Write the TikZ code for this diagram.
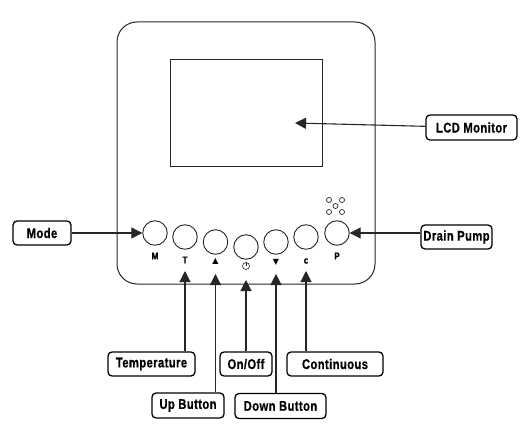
\documentclass[tikz,border=0pt]{standalone}
\usepackage{fontspec}
\newfontfamily\calloutfont{Liberation Sans Bold}[FakeStretch=0.8,FakeBold=0.6,LetterSpace=3]
\newfontfamily\symbolfont{DejaVu Sans}
\usetikzlibrary{arrows.meta, positioning}

\tikzset{
  panelline/.style={draw=black!85, line width=1pt},
  btn/.style={circle, draw=black!85, line width=0.9pt, minimum size=24.5pt, inner sep=0pt},
  vent/.style={circle, draw=black!85, line width=0.7pt, minimum size=5pt, inner sep=0pt},
  tag/.style={inner sep=0pt, font=\calloutfont\fontsize{10}{10}\selectfont},
  marktag/.style={inner sep=0pt, font=\symbolfont\fontsize{8}{8}\selectfont},
  callout/.style={draw=black, line width=1.3pt, rounded corners=4pt, minimum height=24pt,
    inner sep=0pt, font=\calloutfont\fontsize{14}{14}\selectfont},
  pointer/.style={line width=1.1pt, draw=black!85, -{Triangle[length=11pt, width=11pt]}}
}

\begin{document}
\begin{tikzpicture}[x=1pt, y=-1pt]
  \useasboundingbox (0,0) rectangle (528,428);

  % panel and screen
  \draw[panelline, rounded corners=20pt] (117,22) rectangle (375,284);
  \node[panelline, minimum width=152pt, minimum height=106pt, inner sep=0pt] (lcd) at (246,113) {};

  % buttons
  \node[btn] (btnM) at (155,233) {};
  \node[btn] (btnT) at (185,237) {};
  \node[btn] (btnUp) at (215.5,242) {};
  \node[btn] (btnPower) at (246,247) {};
  \node[btn] (btnDown) at (276,242) {};
  \node[btn] (btnC) at (306,237) {};
  \node[btn] (btnP) at (337,233) {};

  % vents over P
  \foreach \ventname/\x/\y in {ventA/329/200, ventB/342/200, ventC/335.5/206, ventD/329/212, ventE/342/212}{
    \node[vent] (\ventname) at (\x,\y) {};
  }

  % button marks
  \node[tag] (tagM) at (155,256) {M};
  \node[tag] (tagT) at (185,260) {T};
  \node[marktag] (tagUp) at (215.5,261) {▲};
  \node[circle, draw=black!85, line width=0.6pt, minimum size=7pt, inner sep=0pt] (tagPower) at (246,266) {};
  \draw[black!85, line width=0.6pt] (tagPower.north) -- (tagPower.center);
  \node[marktag] (tagDown) at (276,262) {▼};
  \node[tag] (tagC) at (306,261) {c};
  \node[tag] (tagP) at (337,256) {P};

  % callouts
  \node[callout, minimum width=58pt] (mode) at (42,233) {Mode};
  \node[callout, minimum width=87pt] (temperature) at (151.5,364) {Temperature};
  \node[callout, minimum width=72pt, minimum height=25pt] (upbutton) at (188,405.5) {Up Button};
  \node[callout, minimum width=52pt] (onoff) at (246,364) {On/Off};
  \node[callout, minimum width=91pt, minimum height=25pt] (downbutton) at (280.5,406) {Down Button};
  \node[callout, minimum width=96pt] (continuous) at (335,364) {Continuous};
  \node[callout, minimum width=91pt, minimum height=25pt] (lcdmonitor) at (471.5,127.5) {LCD Monitor};
  \node[callout, minimum width=71pt] (drainpump) at (456.5,237) {Drain Pump};

  % free ends
  \coordinate (lcdTip) at (295,123);
  \coordinate (tipT) at (185,271);
  \coordinate (tipUp) at (215.5,274);
  \coordinate (tipPower) at (246,280);
  \coordinate (tipDown) at (276,274);
  \coordinate (tipC) at (306,271);

  % pointers
  \draw[pointer] (mode) -- (btnM);
  \draw[pointer] (drainpump.west |- btnP) -- (btnP);
  \draw[pointer] (lcdmonitor) -- (lcdTip);
  \draw[pointer] (temperature.north -| tipT) -- (tipT);
  \draw[pointer] (upbutton.north -| tipUp) -- (tipUp);
  \draw[pointer] (onoff) -- (tipPower);
  \draw[pointer] (downbutton.north -| tipDown) -- (tipDown);
  \draw[pointer] (continuous.north -| tipC) -- (tipC);
\end{tikzpicture}
\end{document}
